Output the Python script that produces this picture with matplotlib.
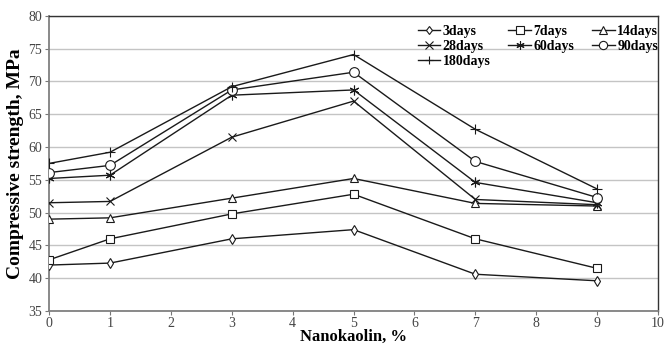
import matplotlib.pyplot as plt

plt.rcParams["font.family"] = ["Liberation Serif", "DejaVu Serif"]

nanokaolin = [0, 1, 3, 5, 7, 9]
series_labels = ["3days", "7days", "14days", "28days", "60days", "90days", "180days"]
days_3 = [42.0, 42.3, 46.0, 47.4, 40.6, 39.6]
days_7 = [42.8, 46.0, 49.8, 52.8, 46.0, 41.5]
days_14 = [49.0, 49.2, 52.2, 55.2, 51.4, 51.0]
days_28 = [51.5, 51.7, 61.5, 67.0, 52.0, 51.2]
days_60 = [55.2, 55.7, 67.9, 68.7, 54.6, 51.5]
days_90 = [56.1, 57.2, 68.7, 71.4, 57.8, 52.3]
days_180 = [57.5, 59.2, 69.2, 74.1, 62.7, 53.6]

all_series = [days_3, days_7, days_14, days_28, days_60, days_90, days_180]
markers = ["d", "s", "^", "x", (6, 2, 0), "o", "+"]
sizes = [5, 6, 6, 6, 7, 7, 7]

fig = plt.figure(figsize=(6.64, 3.44), dpi=100)
ax = fig.add_axes([0.074, 0.096, 0.917, 0.858])

handles = {}
for label, values, mk, ms in zip(series_labels, all_series, markers, sizes):
    (line,) = ax.plot(nanokaolin, values, color="#1a1a1a", lw=1.0, marker=mk,
                      markersize=ms, markerfacecolor="white", markeredgecolor="#1a1a1a",
                      markeredgewidth=0.8, label=label, zorder=3)
    handles[label] = line

ax.set_xlim(0, 10)
ax.set_ylim(35, 80)
ax.set_xticks(range(0, 11))
ax.set_yticks(range(35, 81, 5))
ax.grid(axis="y", color="#c4c4c4", lw=1.0)
ax.set_axisbelow(True)
ax.tick_params(labelsize=10, labelcolor="#444444", length=3, color="#777777", pad=2)
ax.tick_params(axis="x", pad=1)
for side in ["left", "bottom"]:
    ax.spines[side].set_color("#808080")
    ax.spines[side].set_linewidth(1.3)
for side in ["top", "right"]:
    ax.spines[side].set_color("#333333")
    ax.spines[side].set_linewidth(1.0)

ax.set_ylabel("Compressive strength, MPa", fontsize=14, fontweight="bold", labelpad=3)
ax.set_xlabel("Nanokaolin, %", fontsize=12, fontweight="bold", va="center")
ax.xaxis.set_label_coords(0.5, -0.089)

order = ["3days", "28days", "180days", "7days", "60days", "14days", "90days"]
ax.legend([handles[k] for k in order], order, ncol=3, frameon=False,
          loc="upper left", bbox_to_anchor=(0.605, 0.968), borderaxespad=0,
          borderpad=0, prop={"weight": "bold", "size": 10}, handlelength=1.6,
          handletextpad=0.2, columnspacing=1.3, labelspacing=0.12, markerscale=0.85)

fig.savefig("out.png", dpi=100)
